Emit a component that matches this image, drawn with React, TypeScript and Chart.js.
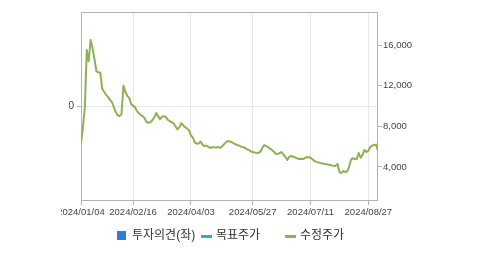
import { useEffect, useRef } from 'react';
import { Chart, registerables } from 'chart.js';

Chart.register(...registerables);

const FONT = '"Liberation Sans", "Noto Sans CJK KR", sans-serif';

// Series names
const seriesNames = ['투자의견(좌)', '목표주가', '수정주가'];

// X-axis tick labels (trading-day index where each label sits)
const tickLabels = ['2024/01/04', '2024/02/16', '2024/04/03', '2024/05/27', '2024/07/11', '2024/08/27'];
const tickIndex = [0, 27, 57, 89, 119, 149];

// Axis ticks
const rightTicks = [4000, 8000, 12000, 16000];
const leftTicks = [0];

// 수정주가 (adjusted price), one value per trading day
const priceValues = [
  6360, 7900, 9900, 15500, 14400, 16500, 15700, 14600, 13400, 13300,
  13300, 11700, 11400, 11100, 10900, 10600, 10400, 9900, 9400, 9100,
  9000, 9200, 12000, 11400, 11000, 10800, 10200, 10000, 9900, 9500,
  9300, 9100, 9000, 8800, 8400, 8350, 8400, 8600, 8900, 9300,
  9000, 8700, 8950, 9000, 8900, 8650, 8500, 8400, 8300, 8000,
  7700, 7900, 8300, 8100, 7900, 7800, 7600, 7100, 6900, 6400,
  6300, 6300, 6500, 6200, 6050, 6100, 6000, 5870, 5950, 5950,
  5900, 5970, 5880, 6000, 6200, 6400, 6550, 6500, 6450, 6350,
  6250, 6160, 6100, 6000, 5950, 5870, 5750, 5670, 5550, 5470,
  5430, 5400, 5380, 5500, 5870, 6160, 6050, 5950, 5800, 5670,
  5500, 5280, 5300, 5350, 5470, 5200, 4980, 4690, 5000, 5080,
  5000, 4950, 4850, 4790, 4800, 4790, 4850, 4980, 4950, 4900,
  4750, 4600, 4500, 4450, 4390, 4350, 4310, 4280, 4250, 4200,
  4150, 4120, 4100, 4300, 3500, 3400, 3600, 3510, 3550, 4000,
  4700, 4880, 4750, 4800, 5380, 4900, 5200, 5670, 5470, 5600,
  5970, 6100, 6160, 6200, 5600,
];

const opinionValues: number[] = [];
const targetValues: number[] = [];

export default function App() {
  const ref = useRef<HTMLCanvasElement>(null);

  useEffect(() => {
    if (!ref.current) return;

    const framePlugin = {
      id: 'frame',
      beforeDatasetsDraw(chart: any) {
        const { ctx, chartArea: a } = chart;
        ctx.save();
        ctx.strokeStyle = '#b3b3b3';
        ctx.lineWidth = 1;
        ctx.strokeRect(Math.round(a.left) + 0.5, Math.round(a.top) + 0.5, Math.round(a.right - a.left) - 1, Math.round(a.bottom - a.top) - 1);
        ctx.restore();
      },
    };

    const legendPlugin = {
      id: 'customLegend',
      afterDraw(chart: any) {
        const { ctx, chartArea: a } = chart;
        const ds = chart.data.datasets;
        const itemW = 84;
        const cx = (a.left + a.right) / 2;
        let x = Math.round(cx - (ds.length * itemW - 27) / 2);
        const y = Math.round(a.bottom + 35);
        ctx.save();
        ctx.font = `12px ${FONT}`;
        ctx.textBaseline = 'middle';
        ds.forEach((d: any) => {
          if (d.type === 'bar') {
            ctx.fillStyle = d.backgroundColor;
            ctx.fillRect(x, y - 5, 9, 9);
          } else {
            ctx.strokeStyle = d.borderColor;
            ctx.lineWidth = 3;
            ctx.beginPath();
            ctx.moveTo(x, y + 0.5);
            ctx.lineTo(x + 11, y + 0.5);
            ctx.stroke();
          }
          ctx.fillStyle = '#333';
          ctx.textAlign = 'left';
          ctx.fillText(d.label, x + 15, y);
          x += itemW;
        });
        // clip the first date label like the original
        ctx.fillStyle = '#ffffff';
        ctx.fillRect(0, a.bottom + 4, 61, 16);
        ctx.restore();
      },
    };

    const chart = new Chart(ref.current, {
      type: 'line',
      data: {
        datasets: [
          {
            type: 'bar',
            label: seriesNames[0],
            data: opinionValues.map((v, i) => ({ x: i, y: v })),
            backgroundColor: '#2f7ed8',
            yAxisID: 'yL',
            xAxisID: 'x',
          } as any,
          {
            type: 'line',
            label: seriesNames[1],
            data: targetValues.map((v, i) => ({ x: i, y: v })),
            borderColor: '#2aaec0',
            borderWidth: 2,
            pointRadius: 0,
            yAxisID: 'yR',
            xAxisID: 'x',
          },
          {
            type: 'line',
            label: seriesNames[2],
            data: priceValues.map((v, i) => ({ x: i, y: v })),
            borderColor: '#8db255',
            borderWidth: 2,
            pointRadius: 0,
            tension: 0,
            borderJoinStyle: 'round',
            yAxisID: 'yR',
            xAxisID: 'x',
          },
        ],
      },
      options: {
        animation: false,
        responsive: false,
        maintainAspectRatio: false,
        layout: { padding: { top: 12, left: 0, right: 0, bottom: 0 } },
        plugins: {
          legend: { display: false },
          tooltip: { enabled: false },
        },
        scales: {
          x: {
            type: 'linear',
            position: 'bottom',
            offset: false,
            min: 0,
            max: priceValues.length - 1,
            afterBuildTicks: (s: any) => {
              s.ticks = tickIndex.map((v) => ({ value: v }));
            },
            afterFit: (s: any) => {
              s.height = 54;
            },
            ticks: {
              autoSkip: false,
              maxRotation: 0,
              minRotation: 0,
              padding: 2,
              color: '#444',
              font: { family: FONT, size: 9.5 },
              callback: (v: any) => {
                const k = tickIndex.indexOf(Number(v));
                return k >= 0 ? tickLabels[k] : '';
              },
            },
            grid: { offset: false, color: '#e8e8e8', tickColor: '#b3b3b3', tickLength: 4, drawOnChartArea: true },
            border: { display: false },
          },
          yL: {
            type: 'linear',
            position: 'left',
            min: -1,
            max: 1,
            afterBuildTicks: (s: any) => {
              s.ticks = leftTicks.map((v) => ({ value: v }));
            },
            afterFit: (s: any) => {
              s.width = 81;
            },
            ticks: { padding: 3, color: '#444', font: { family: FONT, size: 10 } },
            grid: { color: '#e8e8e8', tickColor: '#b3b3b3', tickLength: 4 },
            border: { display: false },
          },
          yR: {
            type: 'linear',
            position: 'right',
            min: 650,
            max: 19250,
            afterBuildTicks: (s: any) => {
              s.ticks = rightTicks.map((v) => ({ value: v }));
            },
            afterFit: (s: any) => {
              s.width = 101;
            },
            ticks: {
              padding: 1,
              color: '#444',
              font: { family: FONT, size: 9.5 },
              callback: (v: any) => Number(v).toLocaleString('en-US'),
            },
            grid: { drawOnChartArea: false, tickColor: '#b3b3b3', tickLength: 4 },
            border: { display: false },
          },
        },
      },
      plugins: [framePlugin, legendPlugin],
    } as any);

    return () => chart.destroy();
  }, []);

  return (
    <div style={{ position: 'fixed', left: 0, top: 0, width: 479, height: 255, background: '#fff' }}>
      <canvas ref={ref} width={479} height={255} style={{ display: 'block', width: 479, height: 255 }} />
    </div>
  );
}
